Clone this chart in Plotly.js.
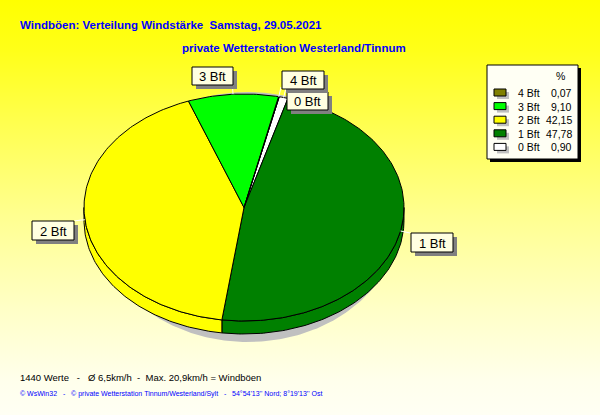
<!DOCTYPE html>
<html>
<head>
<meta charset="utf-8">
<script src="https://cdn.plot.ly/plotly-3.0.1.min.js"></script>
<style>
  html, body { margin: 0; padding: 0; }
  #chart {
    width: 600px; height: 415px;
    background: linear-gradient(to bottom, #FFFF00 0%, #FFFF18 12%, #FFFF50 30%, #FFFF90 52%, #FFFFC8 75%, #FFFFEC 92%, #FFFFF4 100%);
  }
</style>
</head>
<body>
<div id="chart"></div>
<script>
// Wind gust distribution by Beaufort class (percent of 1440 readings)
const categories = ['0 Bft', '1 Bft', '2 Bft', '3 Bft', '4 Bft'];
const shares = [0.90, 47.78, 42.15, 9.10, 0.07];
const legendOrder = ['4 Bft', '3 Bft', '2 Bft', '1 Bft', '0 Bft'];

const titleText = 'Windböen: Verteilung Windstärke  Samstag, 29.05.2021';
const subtitleText = 'private Wetterstation Westerland/Tinnum';
const summaryText = '1440 Werte   -   Ø 6,5km/h  -  Max. 20,9km/h = Windböen';
const creditText = "© WsWin32   -   © private Wetterstation Tinnum/Westerland/Sylt   -   54°54'13'' Nord; 8°19'13'' Ost";

// slice colours
const sliceColors = { '0 Bft': '#FFFFFF', '1 Bft': '#008000', '2 Bft': '#FFFF00', '3 Bft': '#00FF00', '4 Bft': '#808000' };

// pie geometry (page pixels; the axes span the whole page)
const CX = 244, CY = 207.5, RX = 160, RY = 113.5, DEPTH = 13;
const START = 12.7; // degrees clockwise from 12 o'clock
const SHADOW = { cx: 248, cy: 217, rx: 152, ry: 125 };

// label boxes [x0, y0, x1, y1]
const labelBoxes = {
  '0 Bft': [287, 92, 328, 110],
  '1 Bft': [411, 233, 453, 252],
  '2 Bft': [32, 221, 74, 240],
  '3 Bft': [192, 67, 233, 85],
  '4 Bft': [282, 71, 324, 89]
};

const nb = s => s.replace(/ /g, '\u00A0');
const fmt = v => v.toFixed(2).replace('.', ',');

function pt(theta, dy, c) {
  c = c || { cx: CX, cy: CY, rx: RX, ry: RY };
  const r = theta * Math.PI / 180;
  return [c.cx + c.rx * Math.sin(r), c.cy - c.ry * Math.cos(r) + (dy || 0)];
}
function arc(a1, a2, dy, c) {
  const n = Math.max(2, Math.ceil(Math.abs(a2 - a1)) + 1);
  const out = [];
  for (let i = 0; i < n; i++) out.push(pt(a1 + (a2 - a1) * i / (n - 1), dy, c));
  return out;
}
function polyTrace(points, fill, lineColor, lineWidth) {
  return {
    type: 'scatter', mode: 'lines', x: points.map(p => p[0]), y: points.map(p => p[1]),
    fill: 'toself', fillcolor: fill,
    line: { color: lineColor, width: lineWidth, shape: 'linear' },
    hoverinfo: 'skip', showlegend: false
  };
}

const total = shares.reduce((a, b) => a + b, 0);
const slices = [];
let acc = START;
categories.forEach((cat, i) => {
  const a1 = acc, a2 = acc + shares[i] / total * 360;
  slices.push({ cat, a1, a2, mid: (a1 + a2) / 2, value: shares[i] });
  acc = a2;
});

const traces = [];
// drop shadow under the pie
traces.push(polyTrace(arc(0, 360, 0, SHADOW), '#C0C0C0', 'rgba(0,0,0,0)', 0));

// front walls
slices.forEach(s => {
  const s1 = Math.max(s.a1, 90), s2 = Math.min(s.a2, 270);
  if (s2 > s1) {
    const pts = arc(s1, s2, 0).concat(arc(s2, s1, DEPTH));
    pts.push(pts[0]);
    traces.push(polyTrace(pts, sliceColors[s.cat], '#000000', 1));
  }
});

// top faces
slices.forEach(s => {
  const pts = [[CX, CY]].concat(arc(s.a1, s.a2, 0));
  pts.push([CX, CY]);
  traces.push(polyTrace(pts, sliceColors[s.cat], '#000000', 1));
});

// leader lines from each slice's rim to its label
slices.forEach(s => {
  const p = pt(s.mid, 0);
  const r = s.mid * Math.PI / 180;
  const q = [p[0] + 10 * Math.sin(r), p[1] - 10 * Math.cos(r)];
  traces.push({
    type: 'scatter', mode: 'lines', x: [p[0], q[0]], y: [p[1], q[1]],
    line: { color: '#FFFFFF', width: 1 }, hoverinfo: 'skip', showlegend: false
  });
});

const shapes = [];
const annotations = [];

// slice labels
categories.forEach(cat => {
  const b = labelBoxes[cat];
  shapes.push({ type: 'rect', xref: 'x', yref: 'y', x0: b[0] + 4, y0: b[1] + 4, x1: b[2] + 4, y1: b[3] + 4,
    fillcolor: '#808080', line: { width: 0 }, layer: 'above' });
  shapes.push({ type: 'rect', xref: 'x', yref: 'y', x0: b[0], y0: b[1], x1: b[2], y1: b[3],
    fillcolor: '#FFFFE1', line: { color: '#000000', width: 1 }, layer: 'above' });
  annotations.push({ xref: 'x', yref: 'y', x: (b[0] + b[2]) / 2, y: (b[1] + b[3]) / 2 + 0.5,
    text: cat, showarrow: false, xanchor: 'center', yanchor: 'middle',
    font: { family: 'Liberation Sans, Arial, sans-serif', size: 13, color: '#000000' } });
});

// legend panel
const LG = { x0: 487, y0: 65, x1: 578, y1: 159, rowY: 93, rowStep: 13.6 };
shapes.push({ type: 'rect', xref: 'x', yref: 'y', x0: LG.x0 + 3, y0: LG.y0 + 3, x1: LG.x1 + 3, y1: LG.y1 + 3,
  fillcolor: '#000000', line: { width: 0 }, layer: 'above' });
shapes.push({ type: 'rect', xref: 'x', yref: 'y', x0: LG.x0, y0: LG.y0, x1: LG.x1, y1: LG.y1,
  fillcolor: '#FFFFF4', line: { color: '#000000', width: 1 }, layer: 'above' });
const legFont = { family: 'Liberation Sans, Arial, sans-serif', size: 10.5, color: '#000000' };
annotations.push({ xref: 'x', yref: 'y', x: 560, y: 76, text: '%', showarrow: false,
  xanchor: 'center', yanchor: 'middle', font: legFont });
legendOrder.forEach((cat, i) => {
  const y = LG.rowY + i * LG.rowStep;
  shapes.push({ type: 'rect', xref: 'x', yref: 'y', x0: 497, y0: y - 1, x1: 509, y1: y + 6,
    fillcolor: '#C0C0C0', line: { width: 0 }, layer: 'above' });
  shapes.push({ type: 'rect', xref: 'x', yref: 'y', x0: 494, y0: y - 4, x1: 506, y1: y + 3,
    fillcolor: sliceColors[cat], line: { color: '#000000', width: 1 }, layer: 'above' });
  annotations.push({ xref: 'x', yref: 'y', x: 516, y: y, text: cat, showarrow: false,
    xanchor: 'left', yanchor: 'middle', font: legFont });
  annotations.push({ xref: 'x', yref: 'y', x: 574, y: y, text: fmt(shares[categories.indexOf(cat)]), showarrow: false,
    xanchor: 'right', yanchor: 'middle', font: legFont });
});

// subtitle and footer
const headFont = { family: 'Liberation Sans, Arial, sans-serif', size: 11.5, color: '#0000FF', weight: 'bold' };
annotations.push({ xref: 'x', yref: 'y', x: 180, y: 48, text: nb(subtitleText), showarrow: false,
  xanchor: 'left', yanchor: 'middle', font: headFont });
annotations.push({ xref: 'x', yref: 'y', x: 18, y: 377, text: nb(summaryText), showarrow: false,
  xanchor: 'left', yanchor: 'middle',
  font: { family: 'Liberation Sans, Arial, sans-serif', size: 9.5, color: '#000000' } });
annotations.push({ xref: 'x', yref: 'y', x: 18, y: 394, text: nb(creditText), showarrow: false,
  xanchor: 'left', yanchor: 'middle',
  font: { family: 'Liberation Sans, Arial, sans-serif', size: 7, color: '#0000FF' } });

const layout = {
  width: 600, height: 415,
  margin: { l: 0, r: 0, t: 0, b: 0 },
  paper_bgcolor: 'rgba(0,0,0,0)', plot_bgcolor: 'rgba(0,0,0,0)',
  title: { text: nb(titleText), x: 20 / 600, xanchor: 'left', xref: 'paper', y: 1 - 25 / 415, yanchor: 'middle', yref: 'paper',
    font: headFont },
  xaxis: { range: [0, 600], visible: false, fixedrange: true },
  yaxis: { range: [415, 0], visible: false, fixedrange: true },
  showlegend: false,
  shapes, annotations
};

Plotly.newPlot('chart', traces, layout, { displayModeBar: false, staticPlot: true });
</script>
</body>
</html>
